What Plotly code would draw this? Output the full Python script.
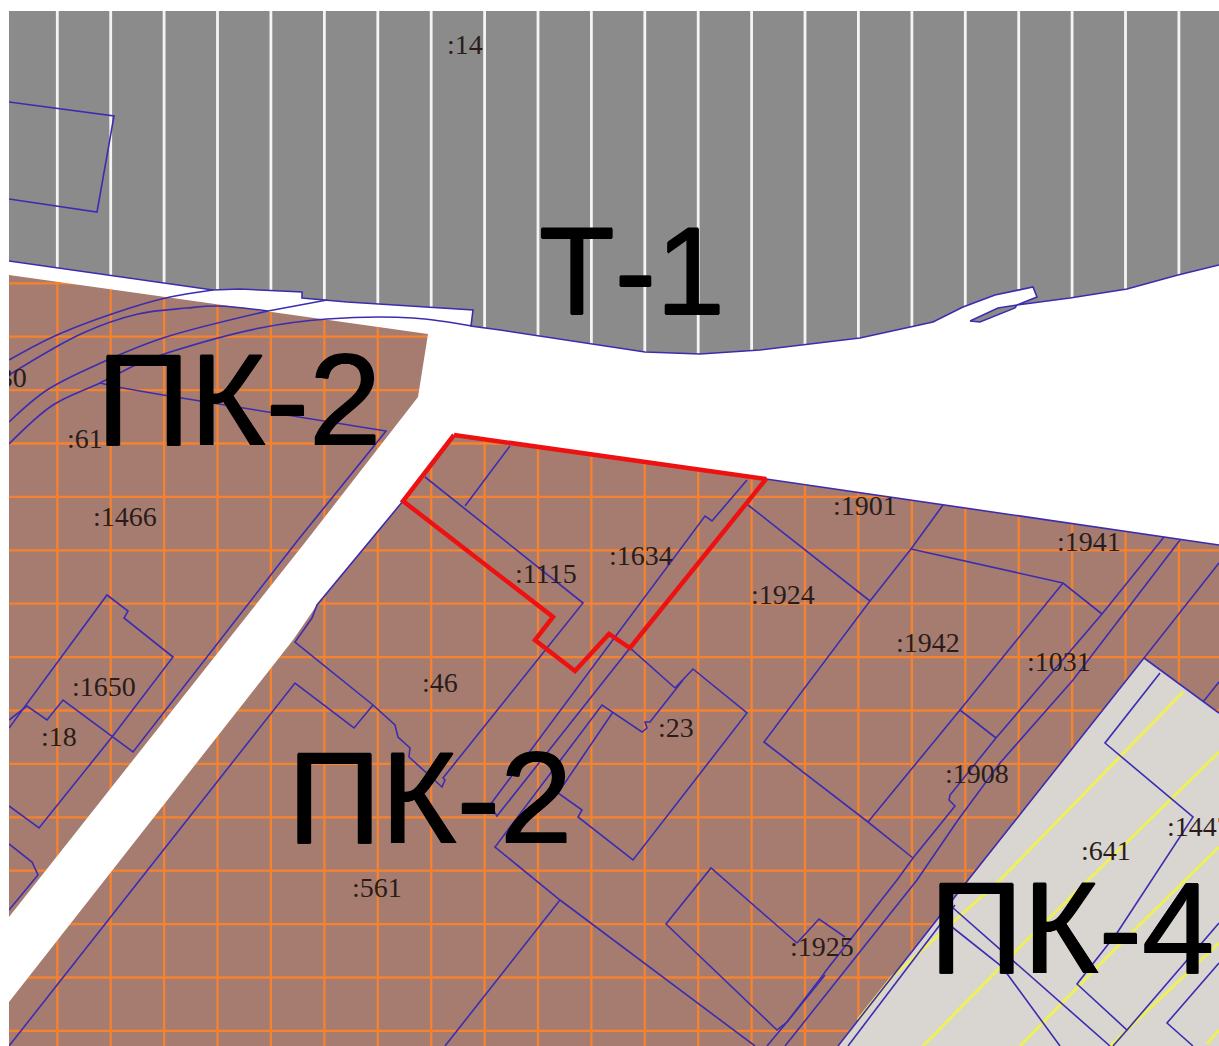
import plotly.graph_objects as go

BLUE = "#3b2db0"
GRAY = "#8b8b8b"
BROWN = "#a67c70"
ORANGE = "#f5822f"
STONE = "#d9d5d1"
YELLOW = "#eef05a"
RED = "#ee1111"

GRID_X = [57.3, 110.7, 164.1, 217.5, 270.9, 324.4, 377.8, 431.2, 484.6, 538.0, 591.4, 644.8,
          698.2, 751.6, 805.0, 858.4, 911.9, 965.3, 1018.7, 1072.1, 1125.5, 1178.9]
GRID_Y = [283.3, 336.7, 390.1, 443.5, 496.9, 550.3, 603.7, 657.1, 710.5, 763.9, 817.3, 870.7, 924.1, 977.5, 1030.9]
STRIPE_END = [270, 278, 285, 292, 292, 301, 306, 310, 329, 337, 346, 354, 356, 353, 346, 340, 328, 308, 289, 300, 291, 277]

T1_EDGE = [(9, 261), (213, 290), (240, 289), (267, 290), (302, 292), (302, 298), (347, 302), (473, 310), (471, 326),
           (500, 330), (645, 352), (700, 354), (760, 350), (860, 338), (900, 329), (913, 326), (933, 322), (963, 307),
           (995, 295), (1033, 287), (1037, 297), (1017, 305), (1070, 298), (1127, 289), (1178, 275), (1219, 265)]
T1_TOP = [(1219, 11), (9, 11)]
ROAD_LOWER = [(1219, 545), (1164, 537), (766, 479), (454, 435), (403, 501), (317, 605), (293, 640), (9, 1002),
              (9, 917), (307, 540), (418, 397), (428, 334), (9, 275)]
BROWN_AREA = [(9, 262), (1219, 262), (1219, 1046), (9, 1046)]
PK4_AREA = [(1144, 658), (1219, 713), (1219, 1046), (838, 1046)]
SLIVER = [(970, 321), (998, 308), (1017, 305), (1015, 308), (980, 322), (970, 321)]

YELLOW_LINES = [
    [(1183, 692), (1117, 760), (1000, 880), (892, 977), (858, 1020)],
    [(1219, 752), (1173, 797), (1027, 940), (923, 1046)],
    [(1219, 847), (1117, 947), (1020, 1046)],
    [(1219, 943), (1117, 1040), (1110, 1046)],
    [(1219, 1030), (1207, 1044)],
]

T1_BLOCK = [(9, 102), (114, 116), (97, 212), (9, 199)]
CURVE_A = [(9, 360), (57, 335), (130, 308), (170, 297), (213, 290)]
CURVE_B = [(9, 375), (83, 333), (138, 314), (187, 308), (217, 306), (268, 311)]
CURVE_B_TAIL = [(268, 311), (327, 300)]
CURVE_C = [(9, 422), (47, 390), (103, 362), (163, 338), (268, 311)]
CURVE_D = [(9, 444), (53, 405), (100, 383), (140, 363), (167, 353), (260, 328), (327, 319), (413, 318), (472, 326)]
LOT_61 = [(100, 383), (117, 387), (163, 395), (267, 412), (386, 431), (298, 540), (218, 643), (133, 752),
          (63, 700), (47, 720), (27, 706), (9, 720)]
LOT_1650 = [(9, 728), (107, 595), (128, 611), (124, 618), (173, 657), (112, 737), (39, 828), (9, 806)]
LOT_EDGE_SW = [(9, 844), (32, 862), (38, 875), (9, 910)]
ROAD_RIGHT = [(403, 501), (317, 605), (312, 618), (295, 642), (373, 705), (395, 725), (398, 737), (410, 748),
              (409, 757), (442, 787), (445, 780), (443, 778), (583, 603), (425, 477)]
LOT_561 = [(373, 705), (354, 728), (295, 683), (9, 1046)]
LOT_1115 = [(465, 506), (510, 446)]
LOT_1634 = [(747, 480), (712, 521), (705, 516), (490, 805), (497, 816), (630, 648), (675, 688)]
LOT_23 = [(683, 680), (650, 722), (645, 722), (647, 728), (642, 732), (602, 705), (495, 847), (560, 900), (755, 1046)]
LOT_23_INNER = [(613, 712), (558, 793), (582, 810), (578, 817), (633, 860), (747, 713), (693, 669), (675, 688)]
LOT_561_LOW = [(560, 900), (445, 1046)]
LOT_BOX = [(797, 943), (711, 868), (666, 924), (777, 1030), (787, 1022), (825, 975)]
LOT_1925 = [(797, 943), (819, 919), (845, 937)]
STRIP_A = [(1164, 537), (1102, 614), (996, 738), (950, 795), (949, 800), (955, 806), (913, 858), (897, 880),
           (825, 972), (823, 975), (787, 1022), (767, 1046)]
STRIP_B = [(1180, 540), (1073, 680), (1000, 763), (958, 820), (917, 880), (787, 1043), (785, 1046)]
LOT_1924 = [(748, 505), (870, 601), (764, 742), (868, 822), (913, 858)]
LOT_1942 = [(943, 505), (911, 549), (870, 601)]
LOT_1941 = [(911, 549), (1063, 583), (1102, 614)]
LOT_1908 = [(1063, 583), (960, 710), (868, 822)]
LOT_1908_TICK = [(960, 710), (996, 738)]
TOP_EDGE = [(766, 479), (1164, 537), (1219, 545)]
PK4_EDGE = [(1219, 563), (1144, 658), (1219, 713)]
PK4_LEFT = [(1144, 658), (968, 880), (838, 1046)]
PK4_NE = [(1203, 702), (1219, 682)]
PK4_INNER = [(1160, 673), (1105, 743), (1193, 817), (1117, 933), (1077, 984), (1127, 1030), (1219, 923)]
PK4_INNER_LOW = [(1127, 1030), (1113, 1046)]
PK4_LEFT_INNER = [(848, 1046), (955, 905)]
PK4_DIAG_1 = [(952, 907), (1110, 1046)]
PK4_DIAG_2 = [(952, 927), (1000, 965), (1008, 975), (1060, 1046)]
PK4_SE = [(1219, 963), (1167, 1023), (1193, 1046)]
SUBJECT_LOT = [(454, 435), (766, 479), (630, 648), (609, 634), (575, 671), (535, 640), (553, 617), (403, 501), (454, 435)]

CURVES = [CURVE_A, CURVE_B, CURVE_C, CURVE_D]
BLUE_LINES = [T1_EDGE, CURVE_B_TAIL, LOT_61, LOT_1650, LOT_EDGE_SW, ROAD_RIGHT, LOT_561,
              LOT_1115, LOT_1634, LOT_23, LOT_23_INNER, LOT_561_LOW, LOT_BOX, LOT_1925, STRIP_A, STRIP_B, LOT_1924,
              LOT_1942, LOT_1941, LOT_1908, LOT_1908_TICK, TOP_EDGE, PK4_EDGE, PK4_LEFT, PK4_NE, PK4_INNER,
              PK4_INNER_LOW, PK4_LEFT_INNER, PK4_DIAG_1, PK4_DIAG_2, PK4_SE]

SMALL_TEXT = [":14", ":61", ":1466", ":30", ":1650", ":18", ":561", ":46", ":1115", ":1634", ":1924", ":1901",
              ":1941", ":1942", ":1031", ":23", ":1908", ":641", ":1447", ":1925"]
SMALL_X = [447, 67, 93, -9, 72, 41, 352, 422, 515, 609, 751, 833, 1057, 896, 1027, 658, 945, 1081, 1167, 790]
SMALL_Y = [47, 441, 519, 380, 689, 739, 890, 685, 576, 558, 597, 508, 544, 645, 664, 730, 776, 853, 829, 949]
BIG_TEXT = ["Т-1", "ПК-2", "ПК-2", "ПК-4"]
BIG_X = [632, 239, 430, 1072]
BIG_Y = [283, 412, 810, 940]
BIG_SIZE = [124, 130, 130, 130]


def xs(pts):
    return [p[0] for p in pts]


def ys(pts):
    return [p[1] for p in pts]


fig = go.Figure()


def poly(pts, fill, line_color=None, width=0):
    fig.add_trace(go.Scatter(x=xs(pts), y=ys(pts), mode="lines", fill="toself", fillcolor=fill,
                             line=dict(color=line_color or fill, width=width), hoverinfo="skip"))


def path(pts, color, width, shape="linear"):
    fig.add_trace(go.Scatter(x=xs(pts), y=ys(pts), mode="lines", line=dict(color=color, width=width, shape=shape),
                             hoverinfo="skip"))


poly(BROWN_AREA, BROWN)
for gy in GRID_Y:
    path([(9, gy), (1219, gy)], ORANGE, 2.3)
for gx in GRID_X:
    path([(gx, 262), (gx, 1046)], ORANGE, 2.3)
poly(T1_EDGE + T1_TOP, GRAY)
for gx, end in zip(GRID_X, STRIPE_END):
    path([(gx, 11), (gx, end)], "#f4f4f2", 2.8)
poly(T1_EDGE + ROAD_LOWER, "#ffffff")
poly(PK4_AREA, STONE)
for line in YELLOW_LINES:
    path(line, YELLOW, 3)
poly(SLIVER, GRAY, BLUE, 1.4)
path(T1_BLOCK, BLUE, 1.6)
for line in CURVES:
    path(line, BLUE, 1.6, "spline")
for line in BLUE_LINES:
    path(line, BLUE, 1.6)
path(SUBJECT_LOT, RED, 4.5)

fig.add_trace(go.Scatter(x=SMALL_X, y=SMALL_Y, text=SMALL_TEXT, mode="text", textposition="middle right",
                         textfont=dict(family="Liberation Serif", size=28, color="#2a1c1a"), hoverinfo="skip",
                         cliponaxis=True))
fig.add_trace(go.Scatter(x=BIG_X, y=BIG_Y, text=BIG_TEXT, mode="text", textposition="middle center",
                         textfont=dict(family="Liberation Sans", size=BIG_SIZE, color="#000000",
                                       shadow="0.8px 0 0 #000, -0.8px 0 0 #000, 0 0.8px 0 #000, 0 -0.8px 0 #000"),
                         hoverinfo="skip", cliponaxis=True))

fig.update_layout(width=1219, height=1046, autosize=False, showlegend=False,
                  margin=dict(l=9, r=0, t=11, b=0, pad=0), paper_bgcolor="#ffffff", plot_bgcolor="#ffffff")
fig.update_xaxes(range=[9, 1219], visible=False, fixedrange=True)
fig.update_yaxes(range=[1046, 11], visible=False, fixedrange=True)

fig.write_html("out.html", config={"displayModeBar": False},
               post_script="document.body.style.margin='0';document.body.style.overflow='hidden';")
